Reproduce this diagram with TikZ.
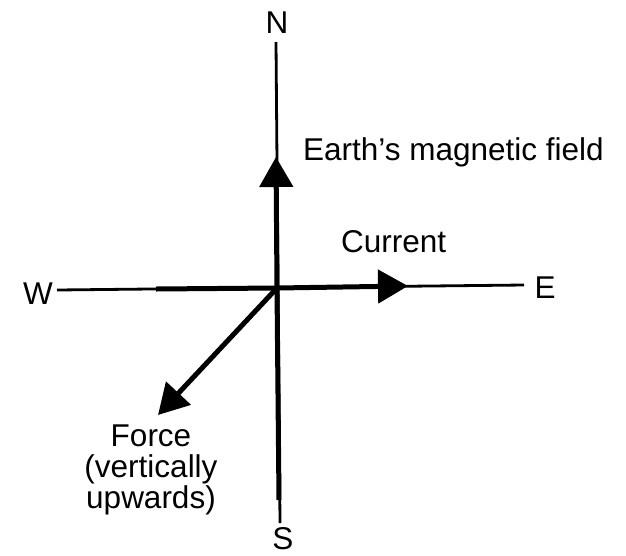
\documentclass[tikz,border=0pt]{standalone}
\usepackage{fontspec}
\setmainfont{Liberation Sans}
\usetikzlibrary{arrows.meta}
\tikzset{
  lbl/.style={font=\fontsize{31.5}{31}\selectfont, inner sep=0pt},
  thinline/.style={line width=2.8pt},
  thickline/.style={line width=5pt},
  vec/.style={line width=5pt, -{Triangle[length=30pt,width=33pt]}}
}
\begin{document}
\begin{tikzpicture}[x=1pt,y=-1pt]
\useasboundingbox (0,0) rectangle (626,555);
% labels
\node[lbl, anchor=base] (N) at (277,33) {N};
\node[lbl, anchor=base] (S) at (283,549) {S};
\node[lbl, anchor=base] (W) at (38,304) {W};
\node[lbl, anchor=base] (E) at (545,298) {E};
\node[lbl, anchor=base west] (field) at (303,160) {Earth's magnetic field};
\node[lbl, anchor=base west] (current) at (341,252) {Current};
\node[lbl, anchor=north, align=center] (force) at (151,425) {Force\\(vertically\\upwards)};
% coordinates
\coordinate (O) at (277,288);
\coordinate (ntop) at (276,42);
\coordinate (sbot) at (280,523);
\coordinate (wend) at (57,290);
\coordinate (eend) at (524,285);
\coordinate (wthick) at (156,289);
\coordinate (sthick) at (279,500);
\coordinate (uptip) at (276,157);
\coordinate (righttip) at (408,286);
\coordinate (forcetip) at (158,415);
% axes
\draw[thinline] (ntop) -- (sbot);
\draw[thinline] (wend) -- (eend);
\draw[thickline] (wthick) -- (O);
\draw[thickline] (O) -- (sthick);
% vectors
\draw[vec] (O) -- (uptip);
\draw[vec] (O) -- (righttip);
\draw[vec] (O) -- (forcetip);
\end{tikzpicture}
\end{document}
